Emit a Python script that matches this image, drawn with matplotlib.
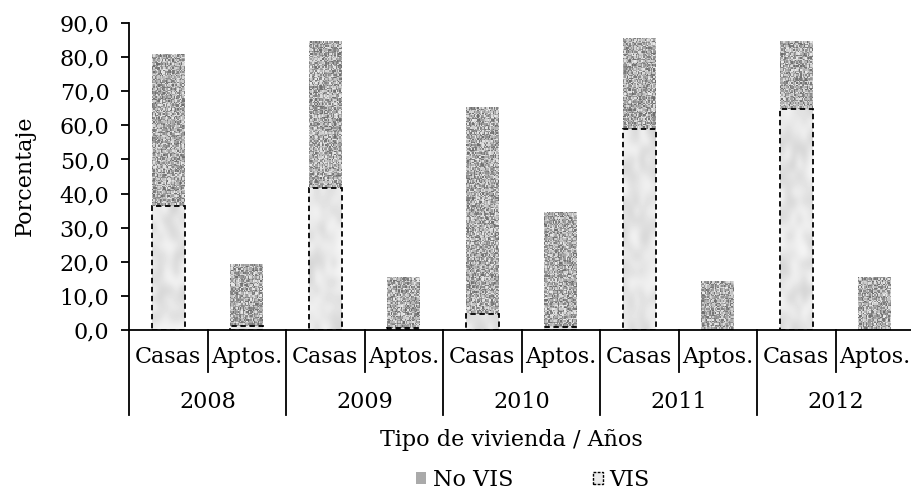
import numpy as np
import matplotlib
matplotlib.use('Agg')
import matplotlib.pyplot as plt
from matplotlib.patches import Patch
from matplotlib.ticker import FuncFormatter, MultipleLocator

# datos (porcentaje)
years = ['2008', '2009', '2010', '2011', '2012']
tipos = ['Casas', 'Aptos.']
total = [80.8, 19.4, 84.8, 15.4, 65.3, 34.7, 85.6, 14.4, 84.8, 15.4]
vis = [36.3, 1.2, 41.5, 0.6, 4.6, 1.0, 59.0, 0.0, 64.8, 0.0]
no_vis = [t - v for t, v in zip(total, vis)]

plt.rcParams['font.family'] = ['DejaVu Serif']
FS = 16

fig = plt.figure(figsize=(9.11, 4.91), dpi=100)
ax = fig.add_axes([129 / 911, 161 / 491, 785 / 911, 307 / 491])

x = np.arange(len(total))
w = 0.42
b_vis = ax.bar(x, vis, w, color='#ebebeb', zorder=2)
b_no = ax.bar(x, no_vis, w, bottom=vis, color='#aaaaaa', zorder=2)

# texturas (granito / marmol) recortadas a cada barra
rng = np.random.default_rng(7)
for p in b_no:
    bx, by = p.get_x(), p.get_y()
    h = p.get_height()
    if h <= 0:
        continue
    img = 0.42 + 0.5 * rng.random((max(int(h * 2.6), 2), 26))
    im = ax.imshow(img, cmap='gray', vmin=0, vmax=1, aspect='auto',
                   extent=(bx, bx + p.get_width(), by, by + h),
                   interpolation='nearest', zorder=2.1)
    im.set_clip_path(p)
for p in b_vis:
    bx, h = p.get_x(), p.get_height()
    if h <= 0:
        continue
    img = 0.82 + 0.15 * rng.random((max(int(h / 2.5), 2), 6))
    im = ax.imshow(img, cmap='gray', vmin=0, vmax=1, aspect='auto',
                   extent=(bx, bx + p.get_width(), 0, h),
                   interpolation='bicubic', zorder=2.1)
    im.set_clip_path(p)
ax.bar(x, vis, w, facecolor='none', edgecolor='black', linestyle=(0, (3, 2)),
       linewidth=1.3, zorder=3)

ax.set_xlim(-0.5, len(total) - 0.5)
ax.set_ylim(0, 90)
ax.yaxis.set_major_locator(MultipleLocator(10))
ax.yaxis.set_major_formatter(FuncFormatter(lambda v, _: f'{v:.1f}'.replace('.', ',')))
ax.tick_params(axis='y', labelsize=FS, length=6, width=1.3, direction='out', pad=8)
ax.set_xticks([])
for s in ['top', 'right']:
    ax.spines[s].set_visible(False)
ax.spines['left'].set_linewidth(1.3)
ax.spines['bottom'].set_linewidth(1.3)

# eje de categorias de dos niveles
tr = ax.get_xaxis_transform()
for i in range(len(total)):
    ax.text(i, -0.088, tipos[i % 2], transform=tr, ha='center', va='center', fontsize=FS)
for j, yr in enumerate(years):
    ax.text(2 * j + 0.5, -0.235, yr, transform=tr, ha='center', va='center', fontsize=FS)
    ax.plot([2 * j + 0.5, 2 * j + 0.5], [0, -0.137], transform=tr, color='black',
            lw=1.3, clip_on=False)
for k in range(len(years) + 1):
    ax.plot([2 * k - 0.5, 2 * k - 0.5], [0, -0.277], transform=tr, color='black',
            lw=1.3, clip_on=False)

fig.text(25 / 911, 1 - 176 / 491, 'Porcentaje', rotation=90, ha='center', va='center',
         fontsize=FS)
fig.text(511 / 911, 1 - 440 / 491, 'Tipo de vivienda / Años', ha='center', va='center',
         fontsize=FS)

handles = [Patch(facecolor='#aaaaaa', edgecolor='none', label='No VIS'),
           Patch(facecolor='#ebebeb', edgecolor='black', linestyle=(0, (2, 1)),
                 linewidth=1, label='VIS')]
fig.legend(handles=handles, loc='center', bbox_to_anchor=(533 / 911, 1 - 480 / 491),
           ncol=2, frameon=False, fontsize=FS, handlelength=0.45, handleheight=0.45,
           handletextpad=0.3, columnspacing=3.6, borderpad=0)

fig.savefig('out.png', dpi=100)
